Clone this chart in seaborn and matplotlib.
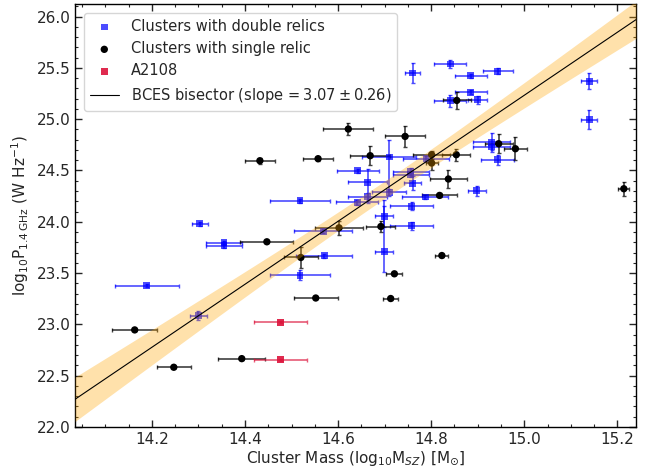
import numpy as np
import pandas as pd
import matplotlib
matplotlib.use("Agg")
import matplotlib.pyplot as plt
import seaborn as sns

# ---------------- data ----------------
dbl_mass = [14.189, 14.303, 14.355, 14.355, 14.300, 14.642, 14.518, 14.568, 14.570, 14.518,
            14.641, 14.664, 14.664, 14.760, 14.841, 14.885, 14.943, 14.885, 14.841, 14.900,
            15.140, 15.140, 14.710, 14.787, 14.760, 14.756, 14.756, 14.789, 14.710, 14.758,
            14.758, 14.699, 14.699, 14.898, 14.930, 14.930, 14.943]
dbl_mass_err = [0.069, 0.017, 0.039, 0.039, 0.018, 0.045, 0.064, 0.062, 0.060, 0.064,
                0.045, 0.042, 0.042, 0.016, 0.034, 0.034, 0.032, 0.034, 0.034, 0.020,
                0.017, 0.017, 0.058, 0.049, 0.018, 0.039, 0.039, 0.049, 0.037, 0.046,
                0.046, 0.020, 0.020, 0.019, 0.040, 0.040, 0.036]
dbl_power = [23.376, 23.980, 23.795, 23.766, 23.086, 24.498, 24.205, 23.909, 23.668, 23.480,
             24.188, 24.383, 24.246, 25.450, 25.538, 25.424, 25.467, 25.262, 25.180, 25.190,
             25.370, 24.995, 24.631, 24.241, 24.377, 24.490, 24.460, 24.615, 24.286, 24.150,
             23.961, 24.052, 23.710, 24.302, 24.774, 24.728, 24.605]
dbl_power_err_lo = [0.015, 0.02, 0.02, 0.02, 0.04, 0.02, 0.02, 0.02, 0.02, 0.05,
                    0.02, 0.20, 0.03, 0.10, 0.04, 0.02, 0.03, 0.02, 0.06, 0.04,
                    0.08, 0.09, 0.33, 0.02, 0.07, 0.03, 0.02, 0.03, 0.03, 0.04,
                    0.04, 0.10, 0.20, 0.05, 0.09, 0.03, 0.05]
dbl_power_err_hi = [0.015, 0.02, 0.02, 0.02, 0.04, 0.02, 0.02, 0.02, 0.02, 0.05,
                    0.02, 0.13, 0.03, 0.10, 0.04, 0.02, 0.03, 0.02, 0.06, 0.04,
                    0.08, 0.09, 0.17, 0.02, 0.07, 0.03, 0.02, 0.03, 0.03, 0.04,
                    0.04, 0.10, 0.50, 0.05, 0.09, 0.03, 0.05]

sgl_mass = [14.855, 14.744, 14.669, 14.622, 14.557, 14.432, 14.801, 14.801, 14.854, 14.837,
            14.818, 14.692, 14.823, 15.214, 14.945, 14.981, 14.721, 14.713, 14.602, 14.447,
            14.520, 14.552, 14.163, 14.247, 14.393]
sgl_mass_err = [0.030, 0.043, 0.043, 0.054, 0.032, 0.033, 0.040, 0.013, 0.030, 0.040,
                0.038, 0.031, 0.014, 0.012, 0.030, 0.024, 0.017, 0.016, 0.052, 0.057,
                0.036, 0.047, 0.048, 0.036, 0.050]
sgl_power = [25.183, 24.832, 24.644, 24.904, 24.615, 24.595, 24.654, 24.573, 24.654, 24.417,
             24.257, 23.954, 23.671, 24.322, 24.761, 24.712, 23.493, 23.252, 23.941, 23.805,
             23.652, 23.257, 22.946, 22.582, 22.666]
sgl_power_err = [0.08, 0.10, 0.09, 0.06, 0.02, 0.03, 0.04, 0.07, 0.06, 0.09,
                 0.02, 0.05, 0.01, 0.07, 0.09, 0.11, 0.01, 0.01, 0.065, 0.01,
                 0.10, 0.01, 0.01, 0.01, 0.01]

a2108_mass = [14.477, 14.477]
a2108_mass_err = [0.057, 0.057]
a2108_power = [23.021, 22.657]
a2108_power_err = [0.01, 0.01]

fit_slope = 3.07
fit_slope_err = 0.26
fit_intercept = -20.817
fit_pivot = 14.70
fit_pivot_err = 0.085

x_label = r'Cluster Mass ($\mathrm{log_{10}M}_{SZ}$) [M$_{\odot}$]'
y_label = r'$\mathrm{log_{10}P_{1.4\,GHz}}$ (W Hz$^{-1}$)'
x_ticks = [14.2, 14.4, 14.6, 14.8, 15.0, 15.2]
y_ticks = [22.0, 22.5, 23.0, 23.5, 24.0, 24.5, 25.0, 25.5, 26.0]

# ---------------- plot ----------------
sns.set_style("ticks")
plt.rcParams['font.family'] = ['DejaVu Sans']
plt.rcParams['xtick.direction'] = 'in'
plt.rcParams['ytick.direction'] = 'in'

fig = plt.figure(figsize=(6.59, 4.76), dpi=100)
ax = fig.add_axes([0.114, 0.103, 0.851, 0.888])

xlim = (14.035, 15.24)
ylim = (22.0, 26.12)

# error bars
ax.errorbar(dbl_mass, dbl_power, xerr=dbl_mass_err,
            yerr=[dbl_power_err_lo, dbl_power_err_hi], fmt='none',
            ecolor='blue', alpha=0.7, elinewidth=1.2, capsize=1.5, capthick=1.0, zorder=2)
ax.errorbar(sgl_mass, sgl_power, xerr=sgl_mass_err, yerr=sgl_power_err, fmt='none',
            ecolor='black', alpha=0.75, elinewidth=1.2, capsize=1.5, capthick=1.0, zorder=2)
ax.errorbar(a2108_mass, a2108_power, xerr=a2108_mass_err, yerr=a2108_power_err, fmt='none',
            ecolor='crimson', alpha=0.7, elinewidth=1.2, capsize=1.5, capthick=1.0, zorder=2)

df_d = pd.DataFrame({'m': dbl_mass, 'p': dbl_power})
df_s = pd.DataFrame({'m': sgl_mass, 'p': sgl_power})
df_a = pd.DataFrame({'m': a2108_mass, 'p': a2108_power})
sns.scatterplot(data=df_d, x='m', y='p', ax=ax, marker='s', color='blue', alpha=0.7,
                s=24, edgecolor='none', label='Clusters with double relics', zorder=3)
sns.scatterplot(data=df_s, x='m', y='p', ax=ax, marker='o', color='black',
                s=28, edgecolor='none', label='Clusters with single relic', zorder=3)
sns.scatterplot(data=df_a, x='m', y='p', ax=ax, marker='s', color='crimson', alpha=0.9,
                s=24, edgecolor='none', label='A2108', zorder=3)

xg = np.linspace(xlim[0], xlim[1], 200)
yfit = fit_slope * xg + fit_intercept
half = np.sqrt(fit_pivot_err ** 2 + (fit_slope_err * 1.15 * (xg - fit_pivot)) ** 2)
ax.fill_between(xg, yfit - half, yfit + half, color='orange', alpha=0.33, lw=0, zorder=4)
sns.lineplot(x=xg, y=yfit, ax=ax, color='black', lw=0.8,
             label=r'BCES bisector (slope$\,=3.07\pm0.26$)', zorder=5)

ax.set_xlim(*xlim)
ax.set_ylim(*ylim)
ax.set_xticks(x_ticks)
ax.set_yticks(y_ticks)
ax.set_xticklabels([f'{t:.1f}' for t in x_ticks])
ax.set_yticklabels([f'{t:.1f}' for t in y_ticks])
ax.xaxis.set_minor_locator(matplotlib.ticker.MultipleLocator(0.05))
ax.yaxis.set_minor_locator(matplotlib.ticker.MultipleLocator(0.1))
ax.tick_params(which='both', direction='in', top=True, right=True, labelsize=11)
ax.tick_params(which='major', length=5, width=1)
ax.tick_params(which='minor', length=2.5, width=0.8)
for sp in ax.spines.values():
    sp.set_linewidth(1.0)
    sp.set_color('black')

ax.set_xlabel(x_label, fontsize=11, labelpad=2)
ax.set_ylabel(y_label, fontsize=11, labelpad=4)

leg = ax.legend(loc='upper left', fontsize=10.5, frameon=True, borderaxespad=0.6,
                handlelength=2.0, markerscale=1.0)
leg.get_frame().set_edgecolor('#cccccc')

fig.savefig('out.png', dpi=100)
